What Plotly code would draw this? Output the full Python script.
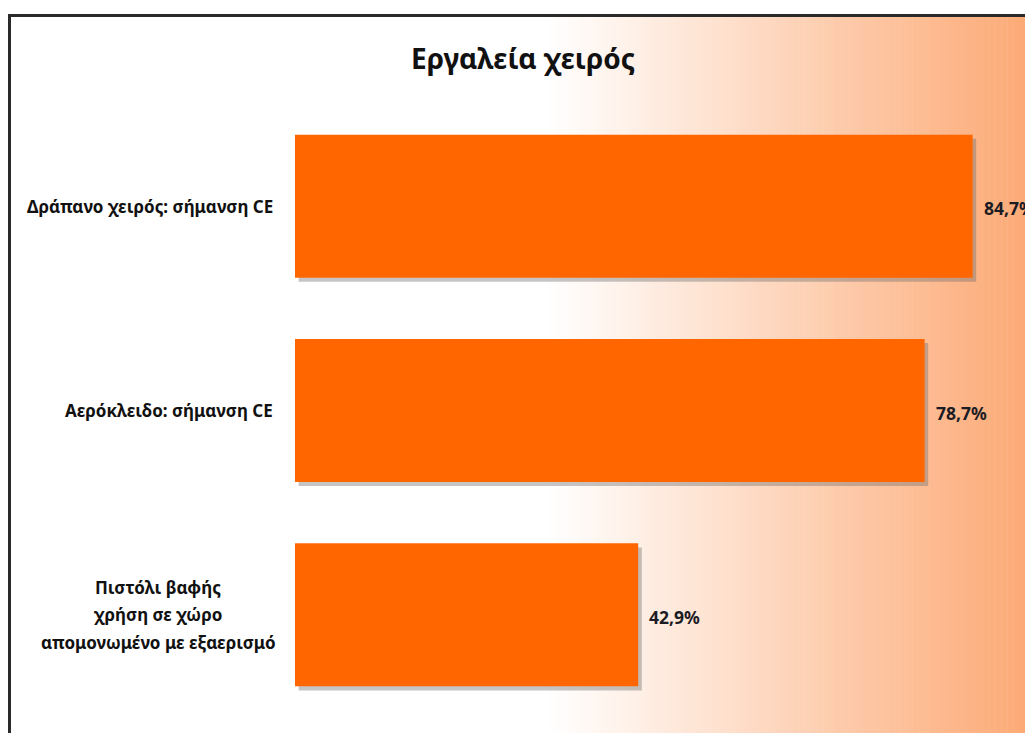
import plotly.graph_objects as go

categories = ["Δράπανο χειρός: σήμανση CE",
              "Αερόκλειδο: σήμανση CE",
              "Πιστόλι βαφής<br>χρήση σε χώρο<br>απομονωμένο με εξαερισμό"]
values = [84.7, 78.7, 42.9]
title = "Εργαλεία χειρός"

W, H = 1025, 733
ML, MR, MT, MB = 295, 0, 104, 16
PW, PH = W - ML - MR, H - MT - MB
xmax = 91.25

pos = list(range(len(categories)))
fig = go.Figure()

# shadow
fig.add_trace(go.Bar(
    y=pos, x=values, base=[0.45] * len(values), orientation="h",
    width=0.7, offset=-0.35 + 0.02,
    marker=dict(color="rgba(110,110,110,0.4)", line=dict(width=0)),
    hoverinfo="skip", showlegend=False))

fig.add_trace(go.Bar(
    y=pos, x=values, orientation="h", width=0.7, offset=-0.35,
    marker=dict(color="#FF6600", line=dict(width=0)),
    showlegend=False))

shapes = []
# background gradient inside the frame
g0, g1 = 550, W
n = 80
end = (252, 170, 118)
for i in range(n):
    xa = g0 + (g1 - g0) * i / n
    xb = g0 + (g1 - g0) * (i + 1) / n + 0.5
    f = (i + 0.5) / n
    c = tuple(round(255 + (e - 255) * f) for e in end)
    shapes.append(dict(type="rect", xref="paper", yref="paper",
                       x0=(xa - ML) / PW, x1=(xb - ML) / PW,
                       y0=-MB / PH - 0.05, y1=1 + (MT - 17) / PH,
                       fillcolor="rgb(%d,%d,%d)" % c, line=dict(width=0), layer="below"))
# frame
shapes.append(dict(type="rect", xref="paper", yref="paper",
                   x0=(9.5 - ML) / PW, x1=1.05,
                   y0=-0.1, y1=1 + (MT - 15.5) / PH,
                   line=dict(color="#2a2a2a", width=3), fillcolor="rgba(0,0,0,0)", layer="above"))

annotations = []
lab_font = dict(family="Noto Sans", size=17, color="#111111", weight="bold")
for p, c in zip(pos, categories):
    lines = c.split("<br>")
    nl = len(lines)
    width_ref = max(len(s) for s in lines)
    for k, s in enumerate(lines):
        annotations.append(dict(x=-20 / PW, xref="paper", y=p, yref="y",
                                text=s, showarrow=False, xanchor="center" if nl > 1 else "right",
                                xshift=0, yshift=-(k - (nl - 1) / 2) * 27.5,
                                font=lab_font))
    if nl > 1:
        # centre multi-line block so that its widest line ends 20px left of the axis
        pass

# value labels
for p, v in zip(pos, values):
    annotations.append(dict(x=v, xref="x", y=p, yref="y",
                            text=("%.1f%%" % v).replace(".", ","), showarrow=False,
                            xanchor="left", xshift=9, yshift=-2,
                            font=dict(family="Noto Sans", size=17.5, color="#1b1b24", weight="bold")))

annotations.append(dict(x=(523 - ML) / PW, xref="paper", y=1 + (MT - 58) / PH, yref="paper",
                        text=title, showarrow=False, xanchor="center", yanchor="middle",
                        font=dict(family="Noto Sans", size=28, color="#111111", weight="bold")))

fig.update_layout(
    width=W, height=H, margin=dict(l=ML, r=MR, t=MT, b=MB, pad=0),
    paper_bgcolor="white", plot_bgcolor="rgba(0,0,0,0)",
    barmode="overlay", separators=",.",
    xaxis=dict(range=[0, xmax], visible=False, fixedrange=True),
    yaxis=dict(range=[len(categories) - 0.5, -0.5], visible=False, fixedrange=True),
    shapes=shapes, annotations=annotations, showlegend=False,
)

# multi-line label block: centre at x=158 px (widest line spans ~40..275)
for a in fig.layout.annotations:
    if a.xanchor == "center" and a.yref == "y":
        a.x = (158 - ML) / PW

fig.write_html("out.html", config={"displayModeBar": False},
               post_script="document.body.style.margin='0px';")
